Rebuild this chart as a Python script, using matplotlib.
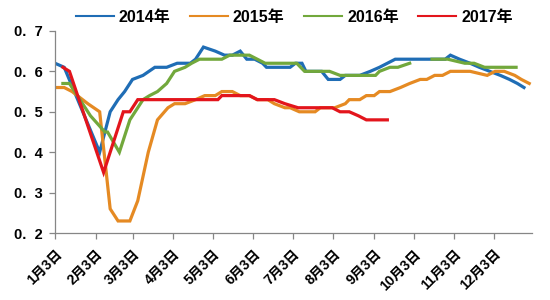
import numpy as np
import matplotlib
matplotlib.use('Agg')
import matplotlib.pyplot as plt

plt.rcParams['font.family'] = ['Liberation Sans', 'Noto Sans CJK SC', 'DejaVu Sans']

# day of year / value pairs
days_2014 = [3, 10, 37, 45, 51, 56, 62, 70, 79, 88, 96, 106, 110, 116, 125, 132, 138, 144,
             149, 155, 161, 164, 182, 186, 191, 194, 206, 211, 220, 224, 235, 243, 250, 256,
             262, 300, 304, 311, 319, 326, 334, 342, 349, 355, 360]
vals_2014 = [0.62, 0.61, 0.40, 0.50, 0.53, 0.55, 0.58, 0.59, 0.61, 0.61, 0.62, 0.62, 0.63, 0.66,
             0.65, 0.64, 0.64, 0.65, 0.63, 0.63, 0.62, 0.61, 0.61, 0.62, 0.62, 0.60, 0.60, 0.58,
             0.58, 0.59, 0.59, 0.60, 0.61, 0.62, 0.63, 0.63, 0.64, 0.63, 0.62, 0.61, 0.60, 0.59,
             0.58, 0.57, 0.56]

days_2015 = [3, 10, 16, 24, 28, 37, 45, 51, 60, 66, 74, 81, 89, 94, 102, 110, 117, 125, 130,
             138, 144, 151, 157, 165, 170, 178, 182, 189, 201, 205, 216, 224, 227, 235, 240,
             246, 250, 258, 266, 273, 281, 286, 292, 298, 304, 319, 332, 338, 345, 353, 358, 364]
vals_2015 = [0.56, 0.56, 0.55, 0.53, 0.52, 0.50, 0.26, 0.23, 0.23, 0.28, 0.40, 0.48, 0.51, 0.52,
             0.52, 0.53, 0.54, 0.54, 0.55, 0.55, 0.54, 0.54, 0.53, 0.53, 0.52, 0.51, 0.51, 0.50,
             0.50, 0.51, 0.51, 0.52, 0.53, 0.53, 0.54, 0.54, 0.55, 0.55, 0.56, 0.57, 0.58, 0.58,
             0.59, 0.59, 0.60, 0.60, 0.59, 0.60, 0.60, 0.59, 0.58, 0.57]

days_2016 = [9, 14, 22, 30, 41, 43, 52, 60, 64, 70, 75, 81, 88, 94, 102, 107, 113, 130, 136,
             151, 157, 163, 180, 187, 193, 212, 220, 247, 250, 258, 264, 273, 280, 290, 302,
             315, 322, 330, 354]
vals_2016 = [0.57, 0.57, 0.53, 0.49, 0.45, 0.45, 0.40, 0.48, 0.50, 0.53, 0.54, 0.55, 0.57, 0.60,
             0.61, 0.62, 0.63, 0.63, 0.64, 0.64, 0.63, 0.62, 0.62, 0.62, 0.60, 0.60, 0.59, 0.59,
             0.60, 0.61, 0.61, 0.62, np.nan, 0.63, 0.63, 0.62, 0.62, 0.61, 0.61]

days_2017 = [9, 14, 40, 55, 60, 66, 127, 130, 151, 157, 170, 178, 188, 214, 220, 227, 234,
             240, 256]
vals_2017 = [0.61, 0.60, 0.35, 0.50, 0.50, 0.53, 0.53, 0.54, 0.54, 0.53, 0.53, 0.52, 0.51, 0.51,
             0.50, 0.50, 0.49, 0.48, 0.48]

tick_days = [3, 34, 62, 93, 123, 154, 184, 215, 246, 276, 307, 337]
tick_labels = ['%d月3日' % m for m in range(1, 13)]
y_ticks = [0.2, 0.3, 0.4, 0.5, 0.6, 0.7]
y_labels = ['0.  2', '0.  3', '0.  4', '0.  5', '0.  6', '0.  7']

series = [
    ('2014年', days_2014, vals_2014, '#1f6db5'),
    ('2015年', days_2015, vals_2015, '#e58a23'),
    ('2016年', days_2016, vals_2016, '#72a83c'),
    ('2017年', days_2017, vals_2017, '#e3151c'),
]

fig = plt.figure(figsize=(5.5, 3), dpi=100)
ax = fig.add_axes([0.1, 0.223, 0.867, 0.674])

for name, d, v, c in series:
    ax.plot(d, v, color=c, linewidth=2.3, label=name, solid_joinstyle='miter')

ax.set_xlim(3, 366)
ax.set_ylim(0.2, 0.7)
ax.set_xticks(tick_days)
ax.set_xticklabels(tick_labels, rotation=45, ha='right', rotation_mode='anchor',
                   fontsize=10, fontweight='bold')
ax.set_yticks(y_ticks)
ax.set_yticklabels(y_labels, fontsize=10.5, fontweight='bold')

for s in ['top', 'right']:
    ax.spines[s].set_visible(False)
for s in ['left', 'bottom']:
    ax.spines[s].set_color('#868686')
    ax.spines[s].set_linewidth(0.9)
ax.tick_params(axis='both', colors='#868686', length=4, width=0.9, labelcolor='black')
ax.tick_params(axis='x', pad=6)
ax.tick_params(axis='y', pad=5)

leg = fig.legend(loc='upper center', bbox_to_anchor=(0.535, 1.015), ncol=4, frameon=False,
                 handlelength=2.4, handletextpad=0.3, columnspacing=1.2,
                 prop={'size': 11.5, 'weight': 'bold'})
for line in leg.get_lines():
    line.set_linewidth(1.5)

fig.savefig('out.png', dpi=100)
